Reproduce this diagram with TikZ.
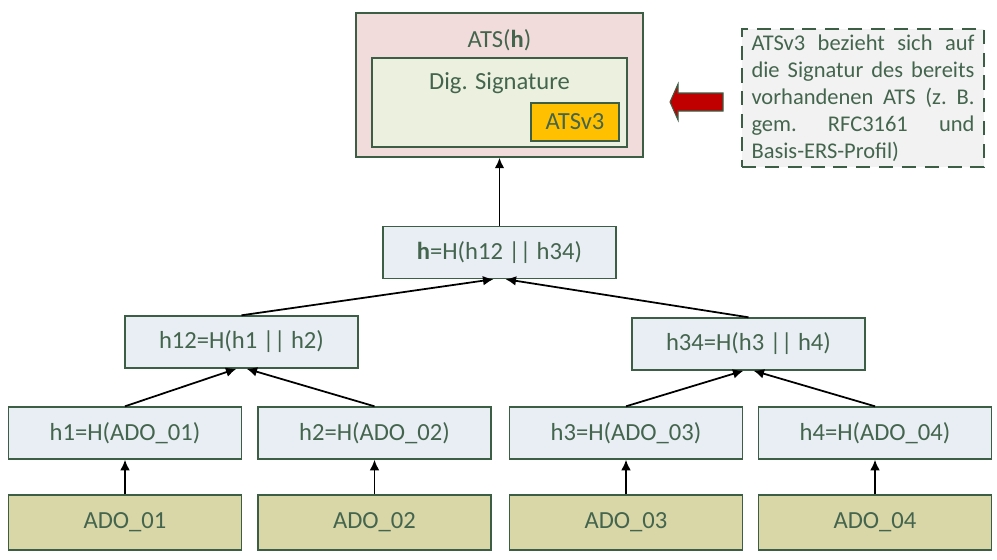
\documentclass[tikz,border=0pt]{standalone}
\usepackage{fontspec}
\setmainfont{Carlito}
\usepackage{xcolor}
\usetikzlibrary{calc,arrows.meta}
\definecolor{boxline}{HTML}{3B5E45}
\definecolor{textgreen}{HTML}{44654D}
\definecolor{atsfill}{HTML}{F2DCDB}
\definecolor{sigfill}{HTML}{EBF1DE}
\definecolor{vthreefill}{HTML}{FFC000}
\definecolor{hashfill}{HTML}{E9EDF4}
\definecolor{adofill}{HTML}{D9D6A8}
\definecolor{notefill}{HTML}{F2F2F2}
\definecolor{hred}{HTML}{C00000}
\newcommand{\boxfont}{\fontsize{14}{16}\selectfont}
\newcommand{\noteline}[1]{\hbox to 4.46cm{#1}}% justified line
\tikzstyle{hashbox} =[
    draw=boxline,
    fill=hashfill,
    line width=0.8pt,
    minimum width=4.66cm,
    minimum height=1.04cm,
    text=textgreen,
    font=\boxfont
    ]
\tikzstyle{adobox} =[hashbox, fill=adofill, minimum height=1.1cm]
\tikzstyle{hasharrow} =[-{Latex[length=6pt,width=5.5pt]}, line width=1pt]
\tikzstyle{title} =[text=textgreen, font=\boxfont]
\tikzstyle{notebox} =[
    draw=boxline,
    fill=notefill,
    line width=1.2pt,
    dash pattern=on 8pt off 5pt,
    minimum width=4.84cm,
    minimum height=2.76cm,
    text width=4.46cm,
    align=left,
    text=textgreen,
    font=\fontsize{12.8}{15.4}\selectfont
    ]

\begin{document}
\begin{tikzpicture}[x=0.02cm, y=-0.02cm]
\useasboundingbox (0,0) rectangle (997,559);

% top: ATS
\node[draw=boxline, fill=atsfill, line width=0.8pt, minimum width=5.74cm, minimum height=2.88cm] (ats) at (499.5,85) {};
\node[title] (atstitle) at (499.5,40) {ATS(\textbf{h})};
\node[draw=boxline, fill=sigfill, line width=0.8pt, minimum width=5.1cm, minimum height=1.78cm] (sig) at (499.5,102.5) {};
\node[title] (sigtitle) at (499.5,83) {Dig. Signature};
\node[draw=boxline, fill=vthreefill, line width=0.8pt, minimum width=1.76cm, minimum height=0.76cm, title] (vthree) at (575,122) {ATSv3};

\node[notebox] (note) at (863,98) {%
\noteline{ATSv3\hfill bezieht\hfill sich\hfill auf}
\noteline{die\hfill Signatur\hfill des\hfill bereits}
\noteline{vorhandenen\hfill ATS\hfill (z.\hfill B.}
\noteline{gem.\hfill RFC3161\hfill und}
Basis-ERS-Profil)};
\draw[fill=hred, draw=boxline, line width=0.6pt] (723,93) -- (678,93) -- (678,84) -- (670,102)
    -- (678,120) -- (678,111) -- (723,111) -- cycle;

% hash tree
\node[hashbox] (h) at (499.5,252.5) {\textbf{h}=H(h12 || h34)};
\node[hashbox] (h12) at (241.5,342) {h12=H(h1 || h2)};
\node[hashbox] (h34) at (748.5,344) {h34=H(h3 || h4)};
\node[hashbox] (h1) at (125,433) {h1=H(ADO\_01)};
\node[hashbox] (h2) at (374.5,433) {h2=H(ADO\_02)};
\node[hashbox] (h3) at (626,433) {h3=H(ADO\_03)};
\node[hashbox] (h4) at (875,433) {h4=H(ADO\_04)};
\node[adobox] (ado1) at (125,522.5) {ADO\_01};
\node[adobox] (ado2) at (374.5,522.5) {ADO\_02};
\node[adobox] (ado3) at (626,522.5) {ADO\_03};
\node[adobox] (ado4) at (875,522.5) {ADO\_04};

\draw[hasharrow] (ado1) -- (h1);
\draw[hasharrow] (ado2) -- (h2);
\draw[hasharrow] (ado3) -- (h3);
\draw[hasharrow] (ado4) -- (h4);
\draw[hasharrow] (h1.north) -- ($(h12.south)+(-5,0)$);
\draw[hasharrow] (h2.north) -- ($(h12.south)+(5,0)$);
\draw[hasharrow] (h3.north) -- ($(h34.south)+(-5,0)$);
\draw[hasharrow] (h4.north) -- ($(h34.south)+(5,0)$);
\draw[hasharrow] (h12.north) -- ($(h.south)+(-6,0)$);
\draw[hasharrow] (h34.north) -- ($(h.south)+(6,0)$);
\draw[hasharrow] (h) -- (ats);
\end{tikzpicture}
\end{document}
